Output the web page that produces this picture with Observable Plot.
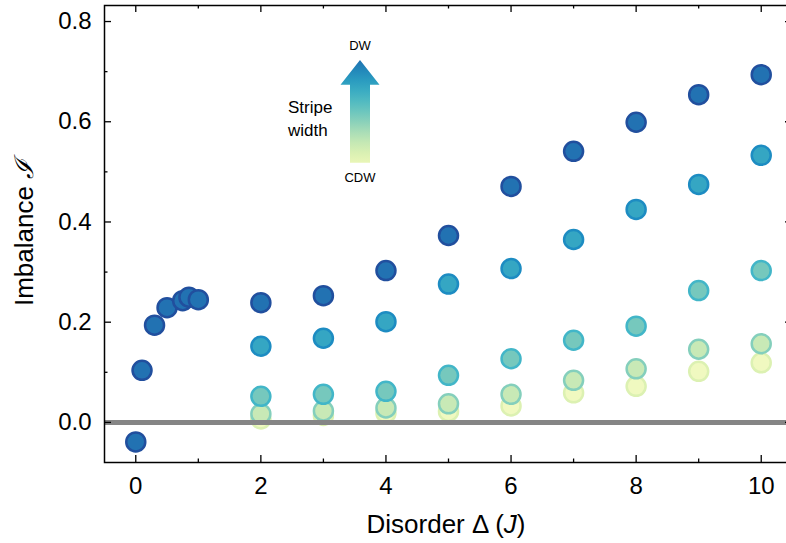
<!DOCTYPE html>
<html><head><meta charset="utf-8">
<script src="https://cdn.jsdelivr.net/npm/d3@7"></script>
<script src="https://cdn.jsdelivr.net/npm/@observablehq/plot@0.6"></script>
<style>html,body{margin:0;padding:0;overflow:hidden;background:#fff;width:786px;height:543px} svg{max-width:none !important}</style>
</head><body><div id="chart"></div>
<script>
// ---- data ----
const disorderLow = [0, 0.1, 0.3, 0.5, 0.75, 0.85, 1.0];
const imbalanceLow = [-0.039, 0.104, 0.194, 0.229, 0.243, 0.250, 0.245];
const disorder = [2, 3, 4, 5, 6, 7, 8, 9, 10];
const imbalanceDW = [0.239, 0.253, 0.303, 0.373, 0.471, 0.541, 0.599, 0.654, 0.694];
const imbalanceW2 = [0.152, 0.168, 0.201, 0.276, 0.307, 0.365, 0.425, 0.475, 0.533];
const imbalanceW3 = [0.052, 0.056, 0.062, 0.094, 0.127, 0.164, 0.192, 0.263, 0.303];
const imbalanceW4 = [0.017, 0.023, 0.029, 0.037, 0.056, 0.084, 0.107, 0.146, 0.157];
const imbalanceCDW = [0.007, 0.014, 0.019, 0.022, 0.033, 0.059, 0.072, 0.102, 0.119];
const xMajor = [0, 2, 4, 6, 8, 10];
const xMinor = [1, 3, 5, 7, 9];
const yMajor = [0, 0.2, 0.4, 0.6, 0.8];
const yMinor = [0.1, 0.3, 0.5, 0.7];

// ---- layout / style ----
const W = 792, H = 543, mL = 104, mR = 0, mT = 5, mB = 81;
const xDomain = [-0.5, 10.5], yDomain = [-0.08, 0.832];
const kx = (W - mL - mR) / (xDomain[1] - xDomain[0]);
const ky = (H - mT - mB) / (yDomain[1] - yDomain[0]);
const majorLen = 7, minorLen = 3.5, tickW = 1.3;
const FONT = "'Liberation Sans', Arial, Helvetica, sans-serif";
const styles = {
  dw:  {fill: "#2272b2", stroke: "#214f9e"},
  w2:  {fill: "#35a6c3", stroke: "#1d8cc2"},
  w3:  {fill: "#76c8bd", stroke: "#42b6c8"},
  w4:  {fill: "#c8e9b6", stroke: "#84cfbc"},
  cdw: {fill: "#f0f9c0", stroke: "#dcf1b2"}
};
const R = 9.5, SW = 2.5;

function ticksX(vals, len) {
  return [
    Plot.ruleX(vals, {x: d => d, y1: yDomain[0], y2: yDomain[0] + len / ky, stroke: "#000", strokeWidth: tickW}),
    Plot.ruleX(vals, {x: d => d, y1: yDomain[1], y2: yDomain[1] - len / ky, stroke: "#000", strokeWidth: tickW})
  ];
}
function ticksY(vals, len) {
  return [
    Plot.ruleY(vals, {y: d => d, x1: xDomain[0], x2: xDomain[0] + len / kx, stroke: "#000", strokeWidth: tickW}),
    Plot.ruleY(vals, {y: d => d, x1: xDomain[1], x2: xDomain[1] - len / kx, stroke: "#000", strokeWidth: tickW})
  ];
}
function dots(xs, ys, st) {
  return Plot.dot(ys, {x: (d, i) => xs[i], y: d => d, r: R, fill: st.fill, stroke: st.stroke, strokeWidth: SW});
}

const plot = Plot.plot({
  width: W, height: H,
  marginLeft: mL, marginRight: mR, marginTop: mT, marginBottom: mB,
  style: {fontFamily: FONT, fontSize: "24px", color: "#000", background: "#fff", overflow: "visible", maxWidth: "none"},
  x: {domain: xDomain, ticks: xMajor, tickFormat: d => String(d), tickSize: 0, tickPadding: 14, label: null},
  y: {domain: yDomain, ticks: yMajor, tickFormat: d => d.toFixed(1), tickSize: 0, tickPadding: 13, label: null},
  marks: [
    dots(disorder, imbalanceCDW, styles.cdw),
    dots(disorder, imbalanceW4, styles.w4),
    dots(disorder, imbalanceW3, styles.w3),
    dots(disorder, imbalanceW2, styles.w2),
    dots(disorder, imbalanceDW, styles.dw),
    dots(disorderLow, imbalanceLow, styles.dw),
    Plot.ruleY([0], {stroke: "#858585", strokeWidth: 5}),
    ...ticksX(xMajor, majorLen), ...ticksX(xMinor, minorLen),
    ...ticksY(yMajor, majorLen), ...ticksY(yMinor, minorLen),
    Plot.frame({stroke: "#000", strokeWidth: 1.5})
  ]
});
plot.style.maxWidth = "none";
document.getElementById("chart").appendChild(plot);

// ---- annotations ----
const svg = d3.select(plot);
const sxS = plot.scale("x"), syS = plot.scale("y");
const sx = d3.scaleLinear(sxS.domain, sxS.range);
const sy = d3.scaleLinear(syS.domain, syS.range);

// axis titles
const xt = svg.append("text").attr("x", 446).attr("y", 533).attr("text-anchor", "middle")
  .attr("font-family", FONT).attr("font-size", 26).attr("fill", "#000");
xt.append("tspan").text("Disorder Δ (");
xt.append("tspan").attr("font-style", "italic").text("J");
xt.append("tspan").text(")");
const yt = svg.append("text").attr("transform", "translate(33,233) rotate(-90)").attr("text-anchor", "middle")
  .attr("font-family", FONT).attr("font-size", 26).attr("fill", "#000");
yt.append("tspan").text("Imbalance ");
yt.append("tspan").attr("font-family", "'DejaVu Serif', serif").attr("font-style", "italic").text("ℐ");

// stripe-width arrow
const arrowX = 3.593, arrowBase = 0.517, arrowHeadBase = 0.673, arrowTip = 0.722;
const shaftHalf = 10, headHalf = 19.5;
const ax = sx(arrowX), yb = sy(arrowBase), yh = sy(arrowHeadBase), yt2 = sy(arrowTip);
const defs = svg.append("defs");
const grad = defs.append("linearGradient").attr("id", "stripeGrad")
  .attr("gradientUnits", "userSpaceOnUse").attr("x1", 0).attr("x2", 0).attr("y1", yb).attr("y2", yt2);
d3.range(0, 1.0001, 0.1).forEach(t => {
  grad.append("stop").attr("offset", t).attr("stop-color", d3.interpolateYlGnBu(0.13 + t * 0.57));
});
svg.append("path")
  .attr("d", `M${ax - shaftHalf},${yb} L${ax - shaftHalf},${yh} L${ax - headHalf},${yh} L${ax},${yt2} L${ax + headHalf},${yh} L${ax + shaftHalf},${yh} L${ax + shaftHalf},${yb} Z`)
  .attr("fill", "url(#stripeGrad)");
const ann = (x, y, s, size, anchor) => svg.append("text").attr("x", x).attr("y", y)
  .attr("text-anchor", anchor).attr("font-family", FONT).attr("font-size", size).attr("fill", "#000").text(s);
ann(ax, yt2 - 10, "DW", 13, "middle");
ann(ax, yb + 19, "CDW", 13, "middle");
ann(288, 113, "Stripe", 17, "start");
ann(288, 136, "width", 17, "start");
</script>
</body></html>
